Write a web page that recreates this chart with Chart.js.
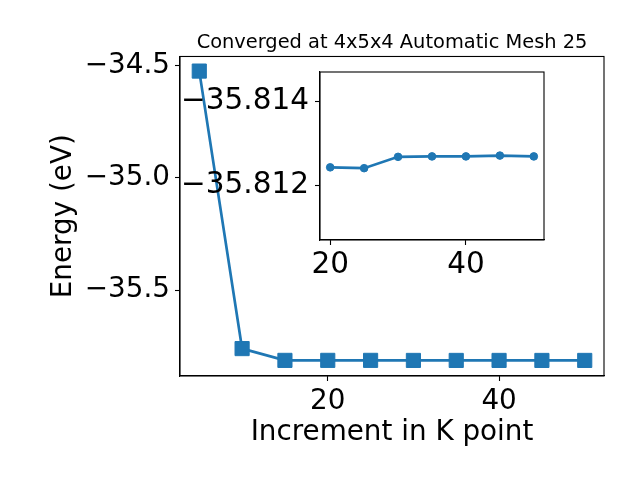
<!DOCTYPE html>
<html>
<head>
<meta charset="utf-8">
<script src="https://cdn.jsdelivr.net/npm/chart.js@4/dist/chart.umd.min.js"></script>
<style>
  html, body { margin: 0; padding: 0; background: #ffffff; }
  #wrap { position: relative; width: 640px; height: 480px; }
  #wrap canvas { position: absolute; left: 0; top: 0; }
</style>
</head>
<body>
<div id="wrap">
  <canvas id="mainChart" width="640" height="480"></canvas>
  <canvas id="insetChart" width="640" height="480"></canvas>
</div>
<script>
// data
const kPoints = [5, 10, 15, 20, 25, 30, 35, 40, 45, 50];
const energies = [-34.525, -35.760, -35.8125, -35.81243, -35.81241, -35.81268, -35.81269, -35.81269, -35.81271, -35.81269];

const insetKPoints = [20, 25, 30, 35, 40, 45, 50];
const insetEnergies = [-35.81243, -35.81241, -35.81268, -35.81269, -35.81269, -35.81271, -35.81269];

const mainXTicks = [20, 40];
const mainXTickLabels = ["20", "40"];
const mainYTicks = [-35.5, -35.0, -34.5];
const mainYTickLabels = ["\u221235.5", "\u221235.0", "\u221234.5"];

const insetXTicks = [20, 40];
const insetXTickLabels = ["20", "40"];
const insetYTicks = [-35.814, -35.812];
const insetYTickLabels = ["\u221235.814", "\u221235.812"];

const titleText = "Converged at 4x5x4 Automatic Mesh 25";
const xLabel = "Increment in K point";
const yLabel = "Energy (eV)";

const BLUE = "#1f77b4";
Chart.defaults.font.family = "'DejaVu Sans', sans-serif";
Chart.defaults.color = "#000000";

function toXY(xs, ys) {
  return xs.map((x, i) => ({ x: x, y: ys[i] }));
}

// white background + black box round the plot area
const framePlugin = {
  id: "frame",
  beforeDraw(chart, args, opts) {
    const a = chart.chartArea;
    if (opts.fill) {
      chart.ctx.save();
      chart.ctx.fillStyle = "#ffffff";
      chart.ctx.fillRect(a.left, a.top, a.right - a.left, a.bottom - a.top);
      chart.ctx.restore();
    }
  },
  afterDraw(chart) {
    const a = chart.chartArea;
    const ctx = chart.ctx;
    ctx.save();
    ctx.strokeStyle = "#000000";
    ctx.lineWidth = 1.1;
    ctx.strokeRect(a.left, a.top, a.right - a.left, a.bottom - a.top);
    ctx.restore();
  },
};

function axisGrid() {
  return {
    display: true,
    drawOnChartArea: false,
    drawTicks: true,
    tickLength: 5,
    tickWidth: 1.1,
    tickColor: "#000000",
  };
}

function fixedTicks(values) {
  return (scale) => {
    scale.ticks = values.map((v) => ({ value: v }));
  };
}

const tickFont = { size: 27.8 };
const insetTickFont = { size: 29.5 };

new Chart(document.getElementById("mainChart"), {
  type: "line",
  data: {
    datasets: [
      {
        data: toXY(kPoints, energies),
        borderColor: BLUE,
        backgroundColor: BLUE,
        borderWidth: 2.7,
        pointStyle: "rect",
        pointRadius: 10,
        pointBorderWidth: 1,
        pointBorderColor: BLUE,
        pointBackgroundColor: BLUE,
        tension: 0,
        clip: false,
      },
    ],
  },
  options: {
    responsive: false,
    animation: false,
    events: [],
    layout: { padding: { top: 0, right: 36, bottom: 0, left: 0 } },
    plugins: {
      legend: { display: false },
      tooltip: { enabled: false },
      frame: { fill: false },
      title: {
        display: true,
        text: titleText,
        fullSize: false,
        font: { size: 19.4, weight: "normal" },
        padding: { top: 31, bottom: 2.2 },
      },
    },
    scales: {
      x: {
        type: "linear",
        min: 2.75,
        max: 52.25,
        afterBuildTicks: fixedTicks(mainXTicks),
        afterFit: (s) => { s.height = 104; },
        ticks: {
          font: tickFont,
          padding: 4,
          maxRotation: 0,
          autoSkip: false,
          callback: (v, i) => mainXTickLabels[i],
        },
        grid: axisGrid(),
        border: { display: true, color: "#000000", width: 1.1 },
        title: {
          display: true,
          text: xLabel,
          font: { size: 27.8 },
          padding: { top: 0, bottom: 31 },
        },
      },
      y: {
        type: "linear",
        min: -35.882,
        max: -34.46,
        afterBuildTicks: fixedTicks(mainYTicks),
        afterFit: (s) => { s.width = 180; },
        ticks: {
          font: tickFont,
          padding: 5,
          autoSkip: false,
          callback: (v, i) => mainYTickLabels[i],
        },
        grid: axisGrid(),
        border: { display: true, color: "#000000", width: 1.1 },
        title: {
          display: true,
          text: yLabel,
          font: { size: 27.8 },
          padding: { top: 47, bottom: 0 },
        },
      },
    },
  },
  plugins: [framePlugin],
});

new Chart(document.getElementById("insetChart"), {
  type: "line",
  data: {
    datasets: [
      {
        data: toXY(insetKPoints, insetEnergies),
        borderColor: BLUE,
        backgroundColor: BLUE,
        borderWidth: 2.7,
        pointStyle: "circle",
        pointRadius: 3.8,
        pointBorderWidth: 1,
        pointBorderColor: BLUE,
        pointBackgroundColor: BLUE,
        tension: 0,
      },
    ],
  },
  options: {
    responsive: false,
    animation: false,
    events: [],
    layout: { padding: { top: 72, right: 96, bottom: 0, left: 170 } },
    plugins: {
      legend: { display: false },
      tooltip: { enabled: false },
      title: { display: false },
      frame: { fill: true },
    },
    scales: {
      x: {
        type: "linear",
        min: 18.5,
        max: 51.5,
        afterBuildTicks: fixedTicks(insetXTicks),
        afterFit: (s) => { s.height = 240; },
        ticks: {
          font: insetTickFont,
          padding: 3,
          maxRotation: 0,
          autoSkip: false,
          callback: (v, i) => insetXTickLabels[i],
        },
        grid: axisGrid(),
        border: { display: true, color: "#000000", width: 1.1 },
      },
      y: {
        type: "linear",
        reverse: true,
        min: -35.8147,
        max: -35.8107,
        afterBuildTicks: fixedTicks(insetYTicks),
        afterFit: (s) => { s.width = 150; },
        ticks: {
          font: insetTickFont,
          padding: 6,
          autoSkip: false,
          callback: (v, i) => insetYTickLabels[i],
        },
        grid: axisGrid(),
        border: { display: true, color: "#000000", width: 1.1 },
      },
    },
  },
  plugins: [framePlugin],
});
</script>
</body>
</html>
